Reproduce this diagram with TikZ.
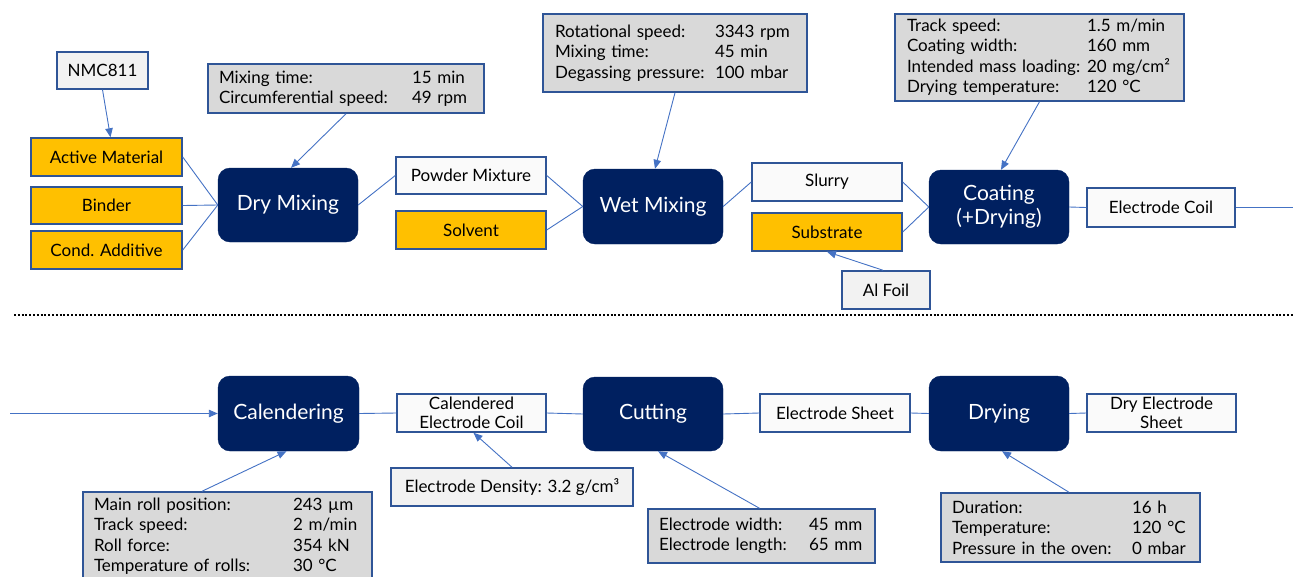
\documentclass[tikz,border=0pt]{standalone}
\usepackage{fontspec}
\setmainfont{Lato}
\usetikzlibrary{arrows.meta}
\definecolor{navy}{HTML}{002060}
\definecolor{bord}{HTML}{2F5597}
\definecolor{connc}{HTML}{4472C4}
\definecolor{orng}{HTML}{FFC000}
\definecolor{pgrey}{HTML}{D9D9D9}
\definecolor{lgrey}{HTML}{F2F2F2}
\definecolor{wfill}{HTML}{FAFAFA}
\tikzset{
 base/.style={draw=bord, line width=1.5pt, inner sep=0pt, align=center, font=\fontsize{17}{19}\selectfont},
 proc/.style={fill=navy, draw=navy, rounded corners=12pt, text=white, inner sep=0pt, align=center, font=\fontsize{21}{24}\selectfont},
 inbox/.style={base, fill=orng},
 src/.style={base, fill=lgrey},
 prod/.style={base, fill=wfill},
 parbox/.style={base, fill=pgrey, align=left, font=\fontsize{17}{20.5}\selectfont},
 link/.style={draw=connc, line width=0.9pt},
 arr/.style={link, -{Triangle[length=9pt,width=7.5pt]}},
}
\newcommand\prow[3]{\makebox[#1][l]{#2}#3}
\begin{document}
\begin{tikzpicture}[x=1pt,y=-1pt]
\useasboundingbox (0,0) rectangle (1293,576);
% ---------- top row ----------
\node[src, minimum width=91pt, minimum height=37pt] (nmc) at (102.5,70.5) {NMC811};
\node[parbox, minimum width=276pt, minimum height=49pt, text width=254pt] (mixbox) at (346,88.5)
 {\prow{193pt}{Mixing time:}{15 min}\\\prow{193pt}{Circumferential speed:}{49 rpm}};
\node[inbox, minimum width=151pt, minimum height=38pt] (am) at (106.5,157) {Active Material};
\node[inbox, minimum width=151pt, minimum height=37pt] (bind) at (106.5,205.5) {Binder};
\node[inbox, minimum width=151pt, minimum height=38pt] (cond) at (106.5,250) {Cond. Additive};
\node[proc, minimum width=140pt, minimum height=74pt] (dry) at (288,205) {Dry Mixing};
\node[prod, minimum width=150pt, minimum height=37pt] (pm) at (471,175.5) {Powder Mixture};
\node[inbox, minimum width=150pt, minimum height=38pt] (solv) at (471,230) {Solvent};
\node[proc, minimum width=140pt, minimum height=75pt] (wet) at (653,206.5) {Wet Mixing};
\node[parbox, minimum width=264pt, minimum height=78pt, text width=240pt] (rotbox) at (675,53)
 {\prow{160pt}{Rotational speed:}{3343 rpm}\\\prow{160pt}{Mixing time:}{45 min}\\\prow{160pt}{Degassing pressure:}{100 mbar}};
\node[prod, minimum width=150pt, minimum height=38pt] (slurry) at (827,182) {Slurry};
\node[inbox, minimum width=150pt, minimum height=38pt] (subs) at (827,232) {Substrate};
\node[src, minimum width=88pt, minimum height=38pt] (alfoil) at (886,290) {Al Foil};
\node[proc, minimum width=140pt, minimum height=74pt] (coat) at (999,207) {Coating\\(+Drying)};
\node[parbox, minimum width=289pt, minimum height=87pt, text width=265pt] (coatbox) at (1039.5,57.5)
 {\prow{180pt}{Track speed:}{1.5 m/min}\\\prow{180pt}{Coating width:}{160 mm}\\\prow{180pt}{Intended mass loading:}{20 mg/cm²}\\\prow{180pt}{Drying temperature:}{120 °C}};
\node[prod, minimum width=148pt, minimum height=39pt] (ecoil) at (1161,207.5) {Electrode Coil};
\coordinate (rend) at (1293,207.5);
% connectors top
\draw[arr] (nmc.south) -- ([xshift=4pt]am.north);
\draw[arr] (mixbox.south) -- ([xshift=3pt]dry.north);
\draw[link] (am.east) -- (dry.west);
\draw[link] (bind.east) -- (dry.west);
\draw[link] (cond.east) -- (dry.west);
\draw[link] (dry.east) -- (pm.west);
\draw[link] (pm.east) -- (wet.west);
\draw[link] (solv.east) -- (wet.west);
\draw[arr] (rotbox.south) -- ([xshift=2pt]wet.north);
\draw[link] (wet.east) -- (slurry.west);
\draw[link] (slurry.east) -- (coat.west);
\draw[link] (subs.east) -- (coat.west);
\draw[arr] ([xshift=-3pt]alfoil.north) -- (subs.south);
\draw[arr] (coatbox.south) -- ([xshift=2pt]coat.north);
\draw[link] (coat.east) -- (ecoil.west);
\draw[link] (ecoil.east) -- (rend);
% ---------- separator ----------
\coordinate (dl) at (14,315);
\coordinate (dr) at (1293,315);
\draw[line width=2.6pt, dash pattern=on 2pt off 1.8pt] (dl) -- (dr);
% ---------- bottom row ----------
\coordinate (lstart) at (10,413.5);
\node[proc, minimum width=141pt, minimum height=75pt] (cal) at (288.5,413.5) {Calendering};
\node[prod, minimum width=149pt, minimum height=38pt, font=\fontsize{17}{19}\selectfont] (cec) at (471.5,413) {Calendered\\Electrode Coil};
\node[src, minimum width=242pt, minimum height=38pt] (edens) at (512,487) {Electrode Density: 3.2 g/cm³};
\node[parbox, minimum width=289pt, minimum height=88pt, text width=267pt] (rollbox) at (227.5,536)
 {\prow{199pt}{Main roll position:}{243 µm}\\\prow{199pt}{Track speed:}{2 m/min}\\\prow{199pt}{Roll force:}{354 kN}\\\prow{199pt}{Temperature of rolls:}{30 °C}};
\node[proc, minimum width=140pt, minimum height=74pt] (cut) at (653,414) {Cutting};
\node[prod, minimum width=150pt, minimum height=38pt] (esheet) at (835,413) {Electrode Sheet};
\node[proc, minimum width=140pt, minimum height=75pt] (drying) at (999,413.5) {Drying};
\node[prod, minimum width=149pt, minimum height=38pt, font=\fontsize{17}{19}\selectfont] (des) at (1161.5,413) {Dry Electrode\\Sheet};
\node[parbox, minimum width=227pt, minimum height=54pt, text width=205pt] (cutbox) at (761.5,536)
 {\prow{150pt}{Electrode width:}{45 mm}\\\prow{150pt}{Electrode length:}{65 mm}};
\node[parbox, minimum width=259pt, minimum height=69pt, text width=237pt] (drybox) at (1070.5,527.5)
 {\prow{180pt}{Duration:}{16 h}\\\prow{180pt}{Temperature:}{120 °C}\\\prow{180pt}{Pressure in the oven:}{0 mbar}};
% connectors bottom
\draw[arr] (lstart) -- (cal.west);
\draw[link] (cal.east) -- (cec.west);
\draw[link] (cec.east) -- (cut.west);
\draw[link] (cut.east) -- (esheet.west);
\draw[link] (esheet.east) -- (drying.west);
\draw[link] (drying.east) -- (des.west);
\draw[arr] (edens.north) -- ([xshift=2pt]cec.south);
\draw[arr] ([xshift=-25.5pt]rollbox.north) -- ([xshift=-2pt]cal.south);
\draw[arr] ([xshift=-2pt]cutbox.north) -- ([xshift=5pt]cut.south);
\draw[arr] ([xshift=-1.5pt]drybox.north) -- ([xshift=3pt]drying.south);
\end{tikzpicture}
\end{document}
